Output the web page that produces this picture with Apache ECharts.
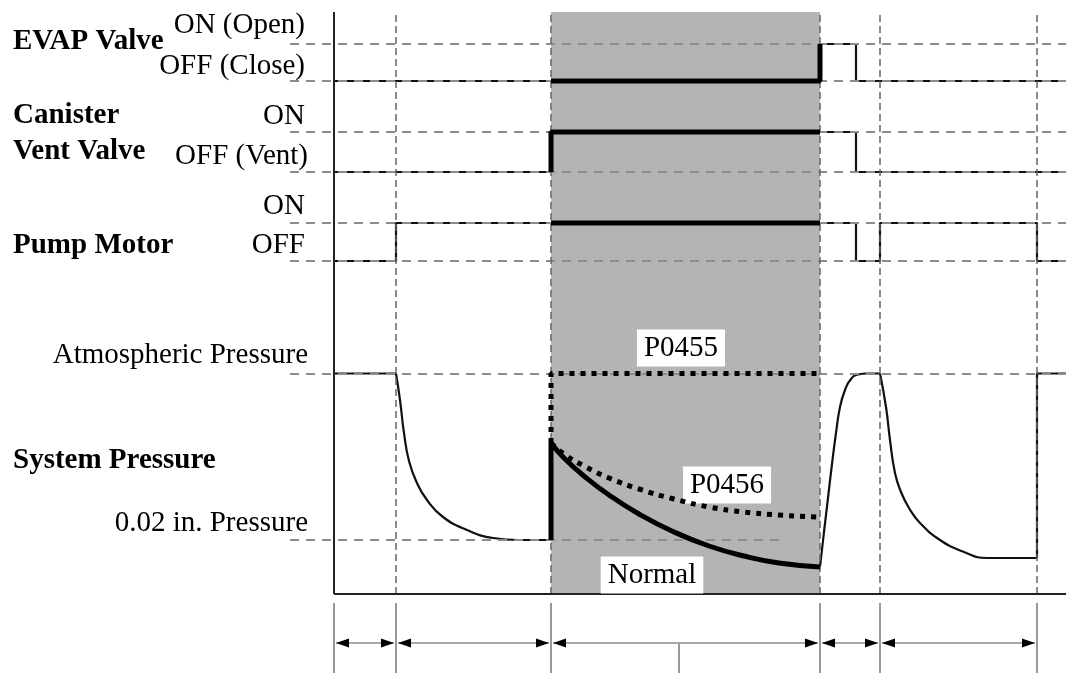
<!DOCTYPE html>
<html>
<head>
<meta charset="utf-8">
<script src="https://cdn.jsdelivr.net/npm/echarts@6/dist/echarts.min.js"></script>
<style>
html,body{margin:0;padding:0;background:#fff;}
#c{width:1066px;height:673px;}
</style>
</head>
<body>
<div id="c"></div>
<script>
// ---------- DATA ----------
const T_MIN = -4.4, T_MAX = 73.2;                 // time axis range (arbitrary units)
const eventTimes = [0, 6.2, 21.7, 48.6, 54.6, 70.3]; // phase boundaries
const testWindow = [21.7, 48.6];                  // shaded monitoring phase
const midTick = 34.5;

const levelValues = { evapOn: 55.0, evapOff: 51.3, ventOn: 46.2, ventOff: 42.2,
                      pumpOn: 37.1, pumpOff: 33.3, atm: 22.05, low: 5.4 };
const lowRefEnd = 45.1;

const evapSignal = [[0,51.3],[48.6,51.3],[48.6,55.0],[52.2,55.0],[52.2,51.3],[73.2,51.3]];
const evapActive = [[21.7,51.3],[48.6,51.3],[48.6,55.0]];
const ventSignal = [[0,42.2],[21.7,42.2],[21.7,46.2],[52.2,46.2],[52.2,42.2],[73.2,42.2]];
const ventActive = [[21.7,42.2],[21.7,46.2],[48.6,46.2]];
const pumpSignal = [[0,33.3],[6.2,33.3],[6.2,37.1],[52.2,37.1],[52.2,33.3],[54.6,33.3],[54.6,37.1],[70.3,37.1],[70.3,33.3],[73.2,33.3]];
const pumpActive = [[21.7,37.1],[48.6,37.1]];

const pressureFlat1 = [[0,22.05],[6.2,22.05]];
const pressureDrop1 = [[6.2,22.05],[6.6,19.4],[7.0,16.1],[7.5,13.3],[8.3,11.1],[9.3,9.4],[10.9,7.7],[13.3,6.4],[15.9,5.6],[18.5,5.4],[21.7,5.4]];
const pressureJump  = [[21.7,5.4],[21.7,15.1]];
const normalCurve   = [[21.7,15.1],[23.0,13.6],[25.0,11.8],[27.5,9.9],[30.5,8.0],[34.0,6.2],[37.5,4.8],[41.0,3.8],[44.5,3.1],[48.6,2.7]];
const p0456Curve    = [[21.7,15.1],[23.0,14.0],[25.0,12.8],[27.5,11.6],[30.5,10.5],[34.0,9.5],[37.5,8.7],[41.0,8.2],[44.5,7.9],[48.4,7.7]];
const p0455Curve    = [[21.7,15.1],[21.7,22.05],[48.6,22.05]];
const pressureRise  = [[48.6,2.7],[49.0,6.2],[49.4,9.6],[49.8,13.0],[50.2,16.1],[50.6,18.7],[51.1,20.4],[51.7,21.5],[52.4,21.95],[53.3,22.05],[54.6,22.05]];
const pressureDrop2 = [[54.6,22.05],[55.2,18.7],[55.6,15.4],[56.1,12.1],[56.7,10.2],[57.5,8.6],[58.6,7.1],[60.6,5.4],[63.0,4.2],[65.3,3.6],[67.5,3.6],[70.3,3.6]];
const pressureEnd   = [[70.3,3.6],[70.3,22.05],[73.2,22.05]];

const curveLabels = [
  { text: 'P0455',  at: [34.7, 24.6] },
  { text: 'P0456',  at: [39.3, 10.9] },
  { text: 'Normal', at: [31.8, 1.9] }
];
const signalTitles = ['EVAP Valve', 'Canister', 'Vent Valve', 'Pump Motor', 'System Pressure'];
const levelTitles  = ['ON (Open)', 'OFF (Close)', 'ON', 'OFF (Vent)', 'ON', 'OFF', 'Atmospheric Pressure', '0.02 in. Pressure'];

// ---------- STYLE / LAYOUT ----------
const FONT = '"Liberation Serif", "Times New Roman", serif';
const FS = 29;
const INK = '#111';
const REF = '#8c8c8c';

const titlePos = [[13,42],[13,116],[13,152],[13,245.5],[13,461]];
const levelPos = [[305,25.5],[305,66],[305,116],[308,156.5],[305,206.5],[305,245.5],[308,355],[308,523.5]];

const graphics = [];
signalTitles.forEach((t, i) => graphics.push({
  type: 'text', x: titlePos[i][0], y: titlePos[i][1], z: 10,
  style: { text: t, align: 'left', verticalAlign: 'middle', font: 'bold ' + FS + 'px ' + FONT, fill: '#000' }
}));
levelTitles.forEach((t, i) => graphics.push({
  type: 'text', x: levelPos[i][0], y: levelPos[i][1], z: 10,
  style: { text: t, align: 'right', verticalAlign: 'middle', font: FS + 'px ' + FONT, fill: '#000' }
}));

function thin(data, smooth) {
  return { type: 'line', xAxisIndex: 0, yAxisIndex: 0, data, symbol: 'none', smooth: smooth ? 0.5 : false, z: 4,
           lineStyle: { color: INK, width: 2.2 }, silent: true };
}
function thick(data, smooth, dotted) {
  return { type: 'line', xAxisIndex: 0, yAxisIndex: 0, data, symbol: 'none', smooth: smooth ? 0.5 : false, z: 5,
           lineStyle: { color: '#000', width: 5, type: dotted ? [5, 6] : 'solid', cap: 'butt' }, silent: true };
}

const horizRefs = [];
['evapOn','evapOff','ventOn','ventOff','pumpOn','pumpOff','atm'].forEach(k => {
  horizRefs.push([{ coord: [T_MIN, levelValues[k]] }, { coord: [T_MAX, levelValues[k]] }]);
});
horizRefs.push([{ coord: [T_MIN, levelValues.low] }, { coord: [lowRefEnd, levelValues.low] }]);

const vertRefs = eventTimes.slice(1).map(t => [{ coord: [t, 0] }, { coord: [t, 58.2] }]);

// bottom timing lanes
const laneLines = eventTimes.map(t => [{ coord: [t, 0] }, { coord: [t, 7.0] }]);
laneLines.push([{ coord: [midTick, 0] }, { coord: [midTick, 3.0] }]);
const spanLines = [];
const heads = [];
for (let i = 0; i < eventTimes.length - 1; i++) {
  const a = eventTimes[i], b = eventTimes[i + 1];
  spanLines.push([{ coord: [a + 0.2, 3.0] }, { coord: [b - 0.2, 3.0] }]);
  heads.push({ coord: [a + 0.85, 3.0], symbolRotate: 90 });
  heads.push({ coord: [b - 0.85, 3.0], symbolRotate: -90 });
}

const option = {
  animation: false,
  backgroundColor: '#fff',
  grid: [
    { left: 290, right: 0, top: 12, height: 582 },
    { left: 290, right: 0, top: 594, height: 79 }
  ],
  xAxis: [
    { type: 'value', gridIndex: 0, min: T_MIN, max: T_MAX, show: false },
    { type: 'value', gridIndex: 1, min: T_MIN, max: T_MAX, show: false }
  ],
  yAxis: [
    { type: 'value', gridIndex: 0, min: 0, max: 58.2, show: false },
    { type: 'value', gridIndex: 1, min: 0, max: 7.9, show: false }
  ],
  graphic: graphics,
  series: [
    {
      type: 'line', xAxisIndex: 0, yAxisIndex: 0, data: [], z: 1, silent: true,
      markArea: { silent: true, itemStyle: { color: '#b4b4b4' },
        data: [[{ coord: [testWindow[0], 0] }, { coord: [testWindow[1], 58.2] }]] },
    },
    {
      type: 'line', xAxisIndex: 0, yAxisIndex: 0, data: [], z: 2, silent: true,
      markLine: { silent: true, symbol: 'none', label: { show: false },
        lineStyle: { color: REF, width: 2, type: [9, 7] }, data: horizRefs }
    },
    {
      type: 'line', xAxisIndex: 0, yAxisIndex: 0, data: [], z: 2, silent: true,
      markLine: { silent: true, symbol: 'none', label: { show: false },
        lineStyle: { color: '#666', width: 1.5, type: [7, 4] }, data: vertRefs }
    },
    {
      type: 'line', xAxisIndex: 0, yAxisIndex: 0, data: [], z: 6, silent: true,
      markLine: { silent: true, symbol: 'none', label: { show: false },
        lineStyle: { color: '#222', width: 2, type: 'solid' },
        data: [[{ coord: [0, 0] }, { coord: [0, 58.2] }], [{ coord: [0, 0] }, { coord: [T_MAX, 0] }]] }
    },
    thin(evapSignal), thick(evapActive),
    thin(ventSignal), thick(ventActive),
    thin(pumpSignal), thick(pumpActive),
    thin(pressureFlat1), thin(pressureDrop1, true), thick(pressureJump),
    thick(normalCurve, true), thick(p0456Curve, true, true), thick(p0455Curve, false, true),
    thin(pressureRise, true), thin(pressureDrop2, true), thin(pressureEnd),
    {
      type: 'line', xAxisIndex: 0, yAxisIndex: 0, data: [], z: 8, silent: true,
      markPoint: { silent: true, symbol: 'rect', symbolSize: 0,
        label: { show: true, position: 'inside', color: '#000', fontFamily: FONT, fontSize: FS,
                 backgroundColor: '#fff', padding: [4, 7], formatter: p => p.name },
        data: curveLabels.map(l => ({ name: l.text, coord: l.at })) }
    },
    {
      type: 'line', xAxisIndex: 1, yAxisIndex: 1, data: [], z: 2, silent: true,
      markLine: { silent: true, symbol: 'none', label: { show: false },
        lineStyle: { color: '#777', width: 1.5, type: 'solid' }, data: laneLines }
    },
    {
      type: 'line', xAxisIndex: 1, yAxisIndex: 1, data: [], z: 2, silent: true,
      markLine: { silent: true, symbol: 'none', label: { show: false },
        lineStyle: { color: '#aaa', width: 2, type: 'solid' }, data: spanLines }
    },
    {
      type: 'line', xAxisIndex: 1, yAxisIndex: 1, data: [], z: 3, silent: true,
      markPoint: { silent: true, symbol: 'triangle', symbolSize: [9, 13],
        itemStyle: { color: '#000' }, label: { show: false }, data: heads }
    }
  ]
};

const chart = echarts.init(document.getElementById('c'), null, { renderer: 'canvas' });
chart.setOption(option);
</script>
</body>
</html>
